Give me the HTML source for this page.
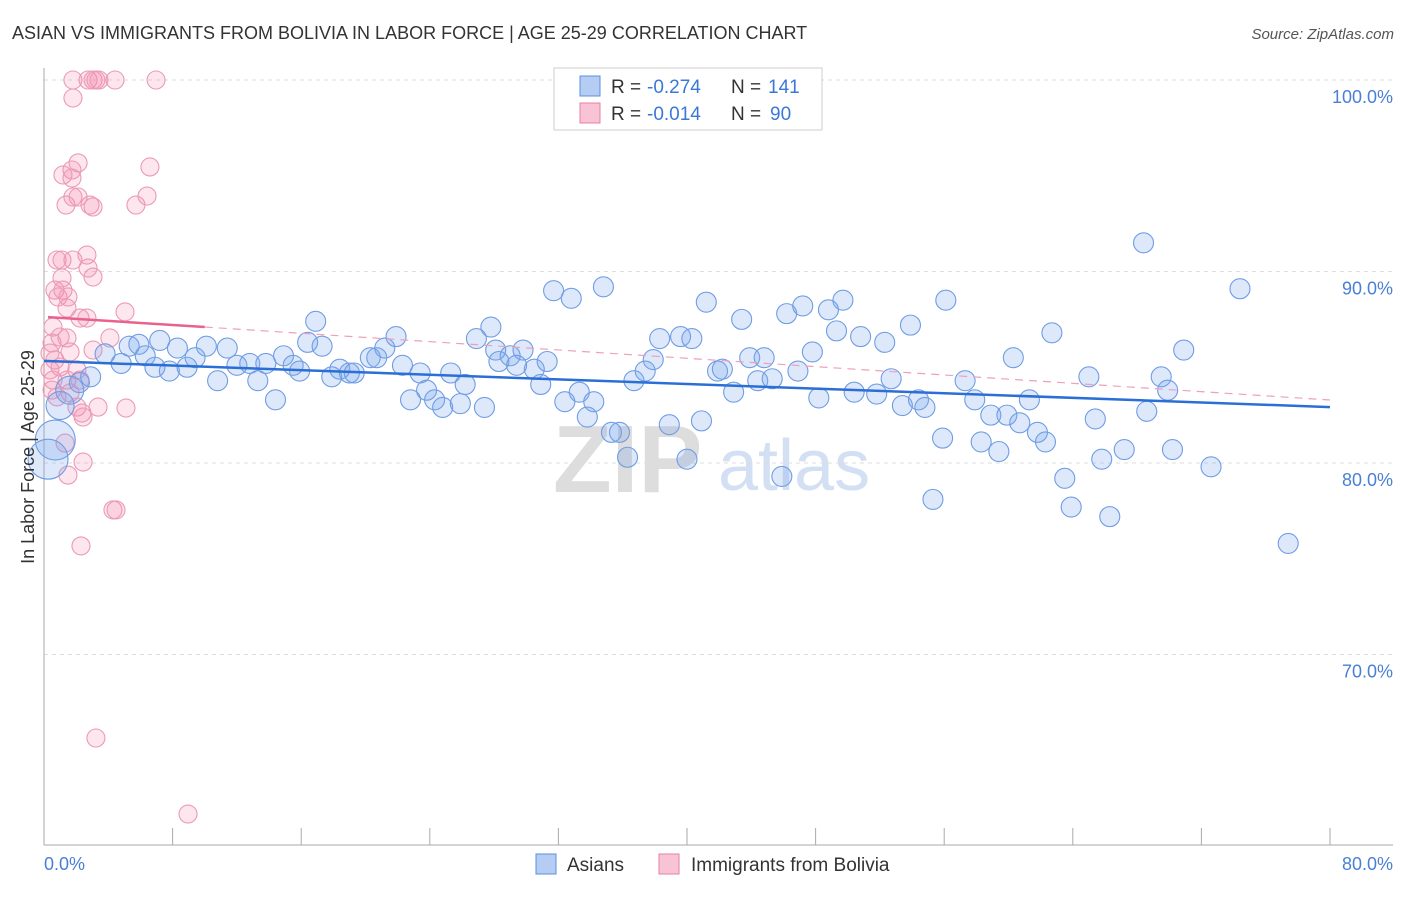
<!DOCTYPE html>
<html><head><meta charset="utf-8"><style>
body{margin:0;background:#fff;font-family:"Liberation Sans",sans-serif}
svg text{font-family:"Liberation Sans",sans-serif}
</style></head><body>
<svg id="chart" width="1406" height="892" xmlns="http://www.w3.org/2000/svg">
<text x="12" y="39" font-size="18" fill="#333">ASIAN VS IMMIGRANTS FROM BOLIVIA IN LABOR FORCE | AGE 25-29 CORRELATION CHART</text>
<text x="1394" y="39" font-size="15" fill="#555" font-style="italic" text-anchor="end">Source: ZipAtlas.com</text>
<g><text x="553" y="492" font-size="96" fill="#ddd" font-family="Liberation Serif" font-weight="bold">ZIP</text><text x="718" y="490" font-size="72" fill="#d3e0f3">atlas</text></g>
<g id="grid"></g>
<g id="axes"></g>
<g id="pink"></g>
<g id="blue"></g>
<g id="trends"></g>
<text transform="translate(34,457) rotate(-90)" font-size="18" fill="#333" text-anchor="middle">In Labor Force | Age 25-29</text>
<g>
<rect x="554" y="68" width="268" height="62" fill="#fff" stroke="#ccc"/>
<rect x="580" y="76" width="20" height="20" fill="#b5cdf2" stroke="#5b8fe0"/>
<rect x="580" y="103" width="20" height="20" fill="#f8c3d5" stroke="#e87fa4"/>
<text x="611" y="93" font-size="19" fill="#333">R =</text><text x="647" y="93" font-size="19" fill="#3a78d8">-0.274</text>
<text x="731" y="93" font-size="19" fill="#333">N =</text><text x="768" y="93" font-size="19" fill="#3a78d8">141</text>
<text x="611" y="120" font-size="19" fill="#333">R =</text><text x="647" y="120" font-size="19" fill="#3a78d8">-0.014</text>
<text x="731" y="120" font-size="19" fill="#333">N =</text><text x="770" y="120" font-size="19" fill="#3a78d8">90</text>
</g>
<g>
<rect x="536" y="854" width="20" height="20" fill="#b5cdf2" stroke="#5b8fe0"/>
<text x="567" y="871" font-size="19" fill="#333">Asians</text>
<rect x="659" y="854" width="20" height="20" fill="#f8c3d5" stroke="#e87fa4"/>
<text x="691" y="871" font-size="19" fill="#333">Immigrants from Bolivia</text>
</g>
</svg>
<script>
const yTicks=[100,90,80,70];
const yTickLabels=["100.0%","90.0%","80.0%","70.0%"];
const xTicks=[0,8,16,24,32,40,48,56,64,72,80];
const xEndLabels=["0.0%","80.0%"];
const blueX=[31.7,32.8,34.8,41.2,47.2,49.7,56.1,68.4,74.4,16.9,27.8,43.4,46.2,48.8,53.9,62.7,21.9,26.9,38.3,39.6,40.3,49.3,50.8,52.3,7.2,8.3,10.1,11.4,16.4,17.3,21.2,28.1,29.0,29.8,31.3,37.9,43.9,44.8,47.8,60.3,70.9,5.3,5.9,3.8,4.8,6.3,6.9,7.8,8.9,9.4,12.0,12.8,13.8,14.9,15.5,15.9,17.9,18.4,19.0,19.3,20.3,20.7,22.3,23.4,25.3,28.3,29.4,30.5,26.2,30.9,36.7,37.4,41.9,42.2,44.4,45.3,46.9,52.7,57.3,65.0,69.5,69.9,10.8,13.3,2.2,2.9,1.6,1.0,14.4,22.8,23.8,24.3,24.8,25.9,27.4,32.4,33.3,34.2,42.9,48.2,50.4,51.8,53.4,54.4,54.8,57.9,58.9,59.9,60.7,61.3,65.4,68.6,33.8,35.3,35.8,38.9,40.9,55.9,58.3,61.8,62.3,59.4,67.2,70.2,65.8,72.6,36.3,40.0,45.9,63.5,55.3,63.9,66.3,77.4,0.7,0.25];
const blueY=[89.0,88.6,89.2,88.4,88.2,88.5,88.5,91.5,89.1,87.4,87.1,87.5,87.8,88.0,87.2,86.8,86.6,86.5,86.5,86.6,86.5,86.9,86.6,86.3,86.4,86.0,86.1,86.0,86.3,86.1,86.0,85.9,85.6,85.9,85.3,85.4,85.5,85.5,85.8,85.5,85.9,86.1,86.2,85.7,85.2,85.6,85.0,84.8,85.0,85.5,85.1,85.2,85.2,85.6,85.1,84.8,84.5,84.9,84.7,84.7,85.5,85.5,85.1,84.7,84.7,85.3,85.1,84.9,84.1,84.1,84.3,84.8,84.8,84.9,84.3,84.4,84.8,84.4,84.3,84.5,84.5,83.8,84.3,84.3,84.2,84.5,83.8,83.0,83.3,83.3,83.8,83.3,82.9,83.1,82.9,83.2,83.7,83.2,83.7,83.4,83.7,83.6,83.0,83.3,82.9,83.3,82.5,82.5,82.1,83.3,82.3,82.7,82.4,81.6,81.6,82.0,82.2,81.3,81.1,81.6,81.1,80.6,80.7,80.7,80.2,79.8,80.3,80.2,79.3,79.2,78.1,77.7,77.2,75.8,81.2,80.2];
const pinkX=[1.8,2.74,3.05,3.23,3.42,4.42,6.97,1.8,2.12,1.74,1.18,1.74,6.59,1.37,1.8,2.12,2.86,3.05,5.72,6.41,0.81,1.12,1.8,2.67,2.74,3.05,1.12,0.68,1.18,0.87,1.49,1.43,2.24,2.67,5.04,4.1,0.56,1.0,0.5,1.43,0.37,1.62,0.68,3.05,0.37,1.0,2.05,0.56,1.43,2.24,0.5,1.62,0.81,2.05,2.36,3.36,5.1,2.43,1.31,2.43,1.49,4.29,4.48,2.3,3.23,8.96];
const pinkY=[100,100,100,100,100,100,100,99.06,95.67,95.3,95.04,94.88,95.46,93.47,93.89,93.89,93.47,93.37,93.47,93.94,90.6,90.6,90.6,90.86,90.18,89.71,89.66,89.03,89.03,88.67,88.67,88.09,87.57,87.57,87.89,86.53,87.1,86.58,86.27,86.53,85.74,85.8,85.38,85.9,84.86,85.01,84.86,84.33,84.33,84.33,83.81,83.66,83.45,82.92,82.61,82.92,82.87,82.4,81.04,80.05,79.37,77.55,77.55,75.67,65.64,61.67];
const blueTrendX=[0,80], blueTrendY=[85.33,82.92];
const pinkTrendX=[0.25,10,80], pinkTrendY=[87.62,87.1,83.29];
const NS="http://www.w3.org/2000/svg";
const xs=v=>44+v*(1286/80);
const ys=v=>80+(100-v)*19.15;
function mk(t,a,p){const e=document.createElementNS(NS,t);for(const k in a)e.setAttribute(k,a[k]);p.appendChild(e);return e;}
const grid=document.getElementById('grid'),axes=document.getElementById('axes');
yTicks.forEach((t,i)=>{
 const l=mk('line',{x1:44,x2:1393,y1:ys(t),y2:ys(t),stroke:'#ddd','stroke-dasharray':'4,4'},grid);
 
 
 const tx=mk('text',{x:1393,y:ys(t)+23,'font-size':18,fill:'#4a7fd6','text-anchor':'end'},axes);
 tx.textContent=yTickLabels[i];
 
 
});
const ya=mk('line',{x1:44,x2:44,y1:68,y2:845,stroke:'#aaa'},axes);


const xa=mk('line',{x1:44,x2:1393,y1:845,y2:845,stroke:'#aaa'},axes);


xTicks.forEach(t=>{
 const l=mk('line',{x1:xs(t),x2:xs(t),y1:828,y2:845,stroke:'#aaa'},axes);
 
 
});
const xl0=mk('text',{x:44,y:870,'font-size':18,fill:'#4a7fd6'},axes);xl0.textContent=xEndLabels[0];


const xl1=mk('text',{x:1393,y:870,'font-size':18,fill:'#4a7fd6','text-anchor':'end'},axes);xl1.textContent=xEndLabels[1];


const pink=document.getElementById('pink');
pinkX.forEach((x,i)=>{
 const c=mk('circle',{cx:xs(x),cy:ys(pinkY[i]),r:9,fill:'rgba(244,140,176,0.22)',stroke:'#eb9ab6','stroke-width':1.1},pink);
 
 
});
const blue=document.getElementById('blue');
blueX.forEach((x,i)=>{
 const big=i>=blueX.length-2||(i>=86&&i<=87);
 const c=mk('circle',{cx:xs(x),cy:ys(blueY[i]),r:big?(i>=blueX.length-2?20:14):10,fill:'rgba(120,165,235,0.25)',stroke:'#6f9de4','stroke-width':1.1},blue);
 
 
});
const tr=document.getElementById('trends');
const bt=mk('line',{x1:xs(blueTrendX[0]),y1:ys(blueTrendY[0]),x2:xs(blueTrendX[1]),y2:ys(blueTrendY[1]),stroke:'#2b6fd6','stroke-width':2.5},tr);


const pt=mk('line',{x1:xs(pinkTrendX[0]),y1:ys(pinkTrendY[0]),x2:xs(pinkTrendX[1]),y2:ys(pinkTrendY[1]),stroke:'#e8618f','stroke-width':2.5},tr);


const pd=mk('line',{x1:xs(pinkTrendX[1]),y1:ys(pinkTrendY[1]),x2:xs(pinkTrendX[2]),y2:ys(pinkTrendY[2]),stroke:'#eea0bb','stroke-width':1.2,'stroke-dasharray':'8,6'},tr);


</script>
</body></html>
